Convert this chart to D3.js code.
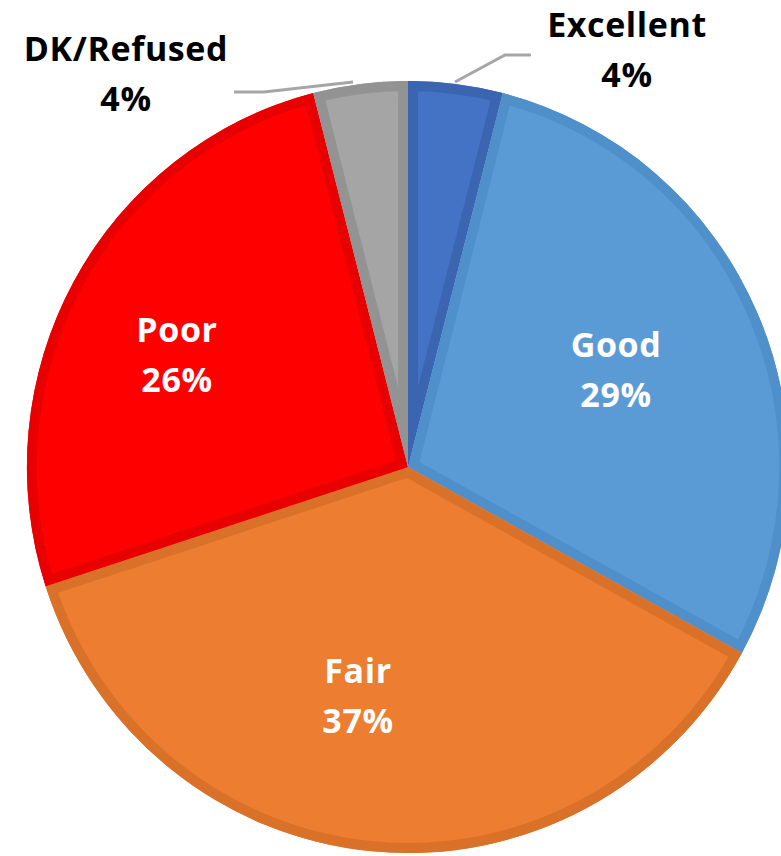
<!DOCTYPE html>
<html><head><meta charset="utf-8">
<script src="https://cdn.jsdelivr.net/npm/d3@7"></script>
<style>body{margin:0;background:#fff}svg{display:block}</style>
</head><body>
<svg id="c" width="781" height="856"></svg>
<script>
const categories = ["Excellent", "Good", "Fair", "Poor", "DK/Refused"];
const values = [4, 29, 37, 26, 4];
const fills = ["#4472C4", "#5B9BD5", "#ED7D31", "#FF0000", "#A5A5A5"];
const edges = ["#3B65B0", "#5090CA", "#DA7129", "#E80000", "#939393"];

const svg = d3.select("#c");
const cx = 408, cy = 467, R = 383;
const pie = d3.pie().sort(null).value(d => d.v);
const arcs = pie(categories.map((c, i) => ({c, v: values[i], i})));
const arc = d3.arc().innerRadius(0).outerRadius(R);

const g = svg.append("g").attr("transform", `translate(${cx},${cy}) scale(0.995,1.008)`);
const defs = svg.append("defs");
arcs.forEach((a, i) => {
  defs.append("clipPath").attr("id", "cp" + i).append("path").attr("d", arc(a));
});
const sl = g.selectAll("g.s").data(arcs).join("g").attr("class", "s");
sl.append("path").attr("d", arc).attr("fill", d => fills[d.data.i]);
sl.append("path").attr("d", arc).attr("fill", "none")
  .attr("stroke", d => edges[d.data.i]).attr("stroke-width", 20)
  .attr("clip-path", d => `url(#cp${d.data.i})`);

// leader lines
const line = d3.line();
svg.append("path").attr("d", line([[455, 82], [505, 55], [531, 55]]))
  .attr("fill", "none").attr("stroke", "#A6A6A6").attr("stroke-width", 3);
svg.append("path").attr("d", line([[234, 92], [264, 92], [353, 82]]))
  .attr("fill", "none").attr("stroke", "#A6A6A6").attr("stroke-width", 3);

const font = "'Open Sans', 'DejaVu Sans', sans-serif";
const labels = [
  {x: 627, y: 37, c: "#000"},
  {x: 616, y: 357, c: "#fff"},
  {x: 358, y: 683, c: "#fff"},
  {x: 177, y: 342, c: "#fff"},
  {x: 126, y: 61, c: "#000"}
];
labels.forEach((l, i) => {
  const t = svg.append("text").attr("text-anchor", "middle")
    .attr("font-family", font).attr("font-weight", "bold")
    .attr("font-size", 34).attr("fill", l.c).attr("letter-spacing", 0.6);
  t.append("tspan").attr("x", l.x).attr("y", l.y).text(categories[i]);
  t.append("tspan").attr("x", l.x).attr("y", l.y + 50).text(values[i] + "%");
});
</script>
</body></html>
